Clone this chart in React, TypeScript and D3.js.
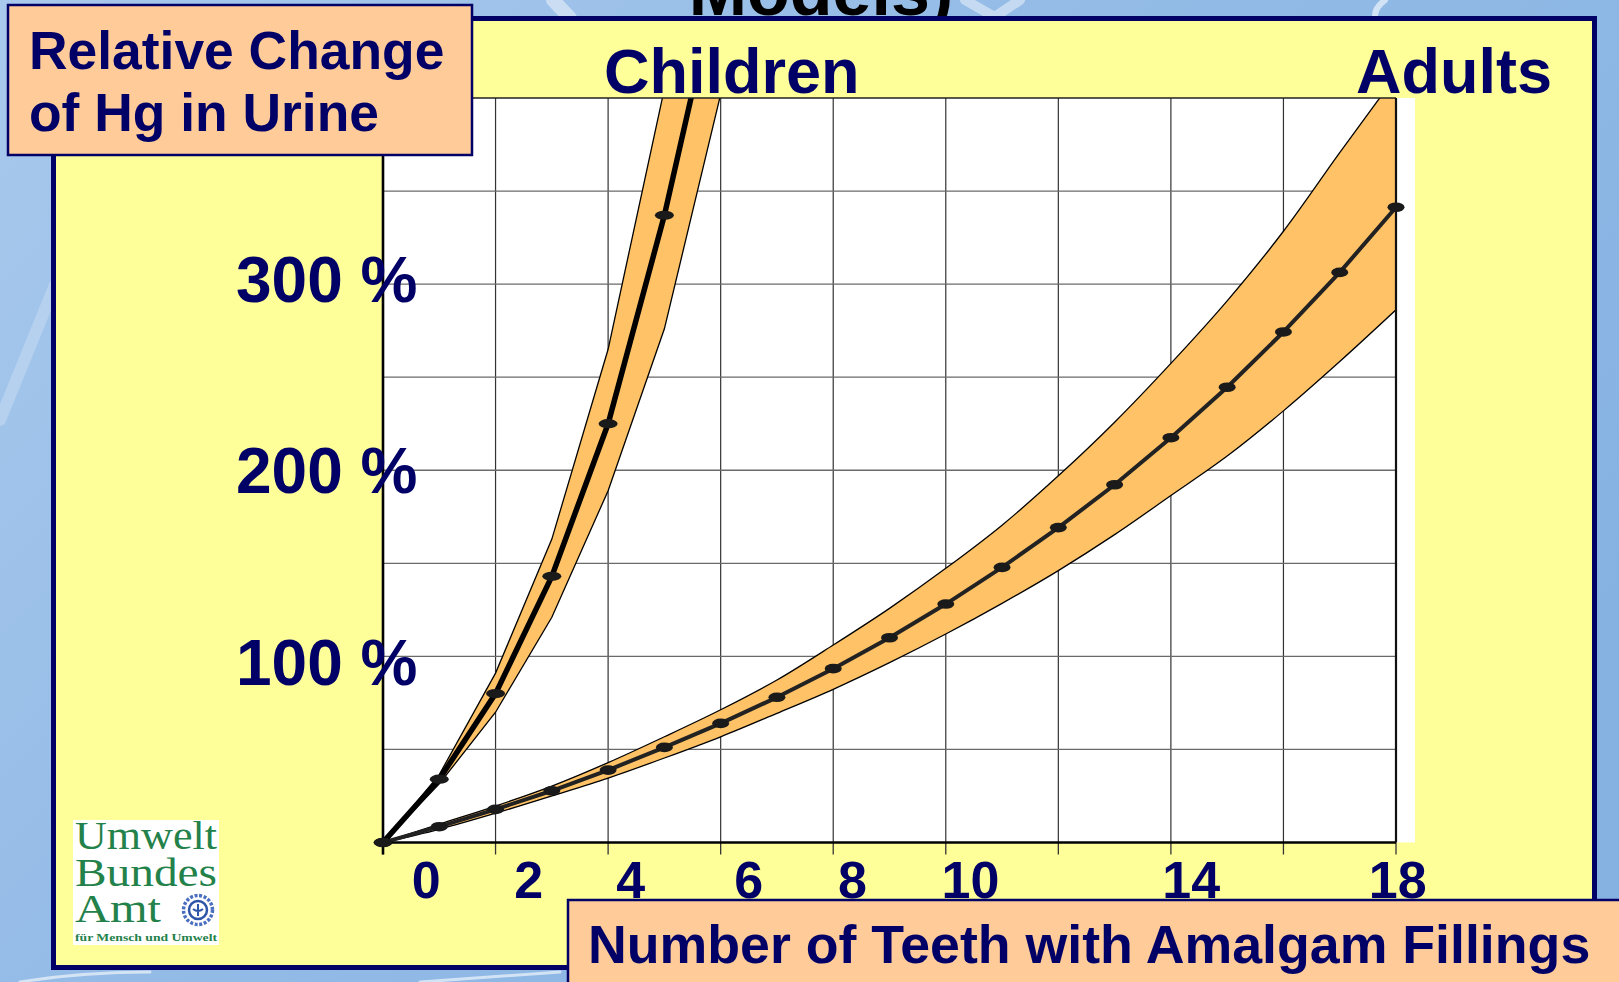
import React, { useRef, useEffect } from 'react';
import * as d3 from 'd3';

// values (relative change of Hg in urine, %)
const adultTeeth = [0, 1, 2, 3, 4, 5, 6, 7, 8, 9, 10, 11, 12, 13, 14, 15, 16, 17, 18];
const adultMean = [0, 8.5, 17.8, 27.8, 38.9, 51.1, 64.0, 78.0, 93.4, 110.0, 128.1, 147.8, 169.2, 192.2, 217.5, 244.6, 274.3, 306.3, 341.3];
const adultUpper = [0, 9.9, 19.6, 30.3, 42.9, 56.8, 71.3, 87.3, 106.1, 125.8, 147.3, 170.5, 197.0, 225.8, 257.4, 291.0, 328.4, 370.6, 412.0];
const adultLower = [0, 7.1, 15.7, 25.0, 34.6, 45.4, 56.8, 69.4, 82.3, 96.6, 112.0, 128.5, 146.1, 165.4, 186.4, 207.6, 231.9, 258.4, 286.2];

const childTeeth = [0, 1, 2, 3, 4, 5, 6];
const childMean = [0, 34, 80, 143, 225, 337, 470];
const childUpper = [0, 36.5, 91, 163, 265, 405, 560];
const childLower = [0, 31.5, 70, 121, 189, 276, 402];

const gridTeeth = [0, 2, 4, 6, 8, 10, 12, 14, 16, 18];
const gridPercent = [0, 50, 100, 150, 200, 250, 300, 350, 400];

// the slide's labels sit a little off their grid lines
const xTickLabels = ['0', '2', '4', '6', '8', '10', '14', '18'];
const xTickLabelAt = [0.77, 2.59, 4.4, 6.5, 8.34, 10.44, 14.36, 18.03];
const yTickLabels = ['300 %', '200 %', '100 %'];
const yTickLabelAt = [303, 200, 97];

const yTitle = ['Relative Change', 'of Hg in Urine'];
const xTitle = 'Number of Teeth with Amalgam Fillings';
const slideTitle = 'Models)';
const logoLines = ['Umwelt', 'Bundes', 'Amt'];
const logoTagline = 'für Mensch und Umwelt';

export default function App() {
  const d3Container = useRef<SVGSVGElement>(null);

  useEffect(() => {
    if (!d3Container.current) return;
    const W = 1619;
    const H = 982;
    const NAVY = '#000066';
    const sans = '"Liberation Sans", Arial, Helvetica, sans-serif';
    const serif = '"Liberation Serif", "DejaVu Serif", serif';

    const svg = d3.select(d3Container.current);
    svg.selectAll('*').remove();

    const xScale = d3.scaleLinear().domain([0, 18]).range([383, 1396]);
    const yScale = d3.scaleLinear().domain([0, 400]).range([842.5, 98]);
    const [x0, x1] = xScale.range();
    const [yb, yt] = yScale.range();

    const defs = svg.append('defs');
    const bg = defs.append('linearGradient').attr('id', 'bg')
      .attr('x1', 0).attr('y1', 0).attr('x2', 1).attr('y2', 0.6);
    bg.append('stop').attr('offset', 0).attr('stop-color', '#a9c9ed');
    bg.append('stop').attr('offset', 0.5).attr('stop-color', '#93bbe6');
    bg.append('stop').attr('offset', 1).attr('stop-color', '#86b2e2');
    defs.append('clipPath').attr('id', 'plotClip')
      .append('rect').attr('x', x0).attr('y', yt).attr('width', x1 - x0).attr('height', yb - yt);

    // slide background
    svg.append('rect').attr('width', W).attr('height', H).attr('fill', 'url(#bg)');
    const streaks = svg.append('g').attr('fill', 'none').attr('stroke', '#ffffff').attr('stroke-linecap', 'round');
    streaks.append('path').attr('d', 'M0,420 L55,285').attr('stroke-width', 12).attr('stroke-opacity', 0.22);
    streaks.append('path').attr('d', 'M553,0 L570,18').attr('stroke-width', 14).attr('stroke-opacity', 0.45);
    streaks.append('path').attr('d', 'M965,0 L1000,20 M1020,0 L990,20').attr('stroke-width', 10).attr('stroke-opacity', 0.45);
    streaks.append('path').attr('d', 'M1385,0 Q1372,10 1376,20').attr('stroke-width', 6).attr('stroke-opacity', 0.6);
    streaks.append('path').attr('d', 'M20,982 Q80,972 150,972 M420,982 L560,972 M1180,982 L1300,973').attr('stroke-width', 3).attr('stroke-opacity', 0.6);

    // cut-off slide title behind the panel
    svg.append('text').text(slideTitle)
      .attr('x', 821).attr('y', 15).attr('text-anchor', 'middle')
      .attr('font-family', sans).attr('font-weight', 'bold').attr('font-size', 70).attr('fill', '#000');

    // yellow panel
    svg.append('rect').attr('x', 53.5).attr('y', 18.5).attr('width', 1541).attr('height', 949)
      .attr('fill', '#ffff99').attr('stroke', NAVY).attr('stroke-width', 5);

    // plot background
    svg.append('rect').attr('x', x0).attr('y', yt).attr('width', 1415 - x0).attr('height', yb - yt).attr('fill', '#fff');

    // grid
    const grid = svg.append('g');
    grid.selectAll('line.gx')
      .data(gridTeeth.filter(t => t > 0 && t < 18))
      .enter().append('line')
      .attr('x1', d => xScale(d)).attr('x2', d => xScale(d))
      .attr('y1', yt).attr('y2', yb)
      .attr('stroke', '#333').attr('stroke-width', 1.2);
    grid.selectAll('line.gy')
      .data(gridPercent.filter(p => p > 0 && p < 400))
      .enter().append('line')
      .attr('x1', x0).attr('x2', x1)
      .attr('y1', d => yScale(d)).attr('y2', d => yScale(d))
      .attr('stroke', '#6a6a6a').attr('stroke-width', 1.3);

    // bands
    const plot = svg.append('g').attr('clip-path', 'url(#plotClip)');
    const adultArea = d3.area<number>()
      .x((d, i) => xScale(adultTeeth[i]))
      .y0((d, i) => yScale(adultLower[i]))
      .y1(d => yScale(d))
      .curve(d3.curveMonotoneX);
    const childArea = d3.area<number>()
      .x((d, i) => xScale(childTeeth[i]))
      .y0((d, i) => yScale(childLower[i]))
      .y1(d => yScale(d));
    plot.append('path').attr('d', adultArea(adultUpper))
      .attr('fill', '#ffc266').attr('stroke', '#000').attr('stroke-width', 1.3);
    plot.append('path').attr('d', childArea(childUpper))
      .attr('fill', '#ffc266').attr('stroke', '#000').attr('stroke-width', 1.3);

    // mean lines
    const adultLine = d3.line<number>().x((d, i) => xScale(adultTeeth[i])).y(d => yScale(d));
    const childLine = d3.line<number>().x((d, i) => xScale(childTeeth[i])).y(d => yScale(d));
    plot.append('path').attr('d', adultLine(adultMean))
      .attr('fill', 'none').attr('stroke', '#222').attr('stroke-width', 4).attr('stroke-linejoin', 'round');
    plot.append('path').attr('d', childLine(childMean))
      .attr('fill', 'none').attr('stroke', '#000').attr('stroke-width', 5.5).attr('stroke-linejoin', 'round');

    // axes and frame
    const frame = svg.append('g');
    frame.append('line').attr('x1', x0).attr('x2', x1).attr('y1', yt).attr('y2', yt)
      .attr('stroke', '#222').attr('stroke-width', 1.3);
    frame.append('line').attr('x1', x1).attr('x2', x1).attr('y1', yt).attr('y2', yb)
      .attr('stroke', '#111').attr('stroke-width', 2.2);
    frame.selectAll('line.tick')
      .data(gridTeeth)
      .enter().append('line')
      .attr('x1', d => xScale(d)).attr('x2', d => xScale(d))
      .attr('y1', yb).attr('y2', yb + 12)
      .attr('stroke', '#333').attr('stroke-width', 1.3);
    frame.append('line').attr('x1', x0).attr('x2', x0).attr('y1', yt).attr('y2', yb + 12)
      .attr('stroke', '#000').attr('stroke-width', 2.6);
    frame.append('line').attr('x1', x0).attr('x2', x1).attr('y1', yb).attr('y2', yb)
      .attr('stroke', '#000').attr('stroke-width', 2.6);

    // markers
    const dots = svg.append('g').attr('fill', '#1a1a1a');
    dots.selectAll('ellipse.a')
      .data(adultMean.map((v, i) => [adultTeeth[i], v]).filter(d => d[1] <= 400))
      .enter().append('ellipse')
      .attr('cx', d => xScale(d[0])).attr('cy', d => yScale(d[1]))
      .attr('rx', 8.5).attr('ry', 4.8);
    dots.selectAll('ellipse.c')
      .data(childMean.map((v, i) => [childTeeth[i], v]).filter(d => d[1] <= 400))
      .enter().append('ellipse')
      .attr('cx', d => xScale(d[0])).attr('cy', d => yScale(d[1]))
      .attr('rx', 9.5).attr('ry', 4.6);

    // tick labels
    const labels = svg.append('g').attr('font-family', sans).attr('font-weight', 'bold').attr('fill', NAVY);
    labels.selectAll('text.xl')
      .data(xTickLabels)
      .enter().append('text')
      .attr('x', (d, i) => xScale(xTickLabelAt[i])).attr('y', 898)
      .attr('text-anchor', 'middle').attr('font-size', 52)
      .text(d => d);
    labels.selectAll('text.yl')
      .data(yTickLabels)
      .enter().append('text')
      .attr('x', 236).attr('y', (d, i) => yScale(yTickLabelAt[i]))
      .attr('dy', '0.36em').attr('font-size', 64)
      .text(d => d);

    // group labels
    labels.append('text').attr('x', 604).attr('y', 93).attr('font-size', 63).text('Children');
    labels.append('text').attr('x', 1356).attr('y', 93).attr('font-size', 63).text('Adults');

    // y title box
    svg.append('rect').attr('x', 8).attr('y', 5).attr('width', 464).attr('height', 150)
      .attr('fill', '#ffcc99').attr('stroke', NAVY).attr('stroke-width', 2.5);
    svg.append('g').attr('font-family', sans).attr('font-weight', 'bold').attr('fill', NAVY).attr('font-size', 53.4)
      .selectAll('text').data(yTitle).enter().append('text')
      .attr('x', 29).attr('y', (d, i) => 68.5 + i * 62.5)
      .text(d => d);

    // x title box
    svg.append('rect').attr('x', 568).attr('y', 900).attr('width', 1100).attr('height', 120)
      .attr('fill', '#ffcc99').attr('stroke', NAVY).attr('stroke-width', 2.5);
    svg.append('text').attr('x', 588).attr('y', 963)
      .attr('font-family', sans).attr('font-weight', 'bold').attr('font-size', 53.7).attr('fill', NAVY)
      .text(xTitle);

    // agency logo
    const logo = svg.append('g');
    logo.append('rect').attr('x', 73).attr('y', 820).attr('width', 146).attr('height', 125).attr('fill', '#fff');
    const logoWidths = [142, 142, 86];
    logo.selectAll('text.l').data(logoLines).enter().append('text')
      .attr('x', 75).attr('y', (d, i) => 849 + i * 36.5)
      .attr('font-family', serif).attr('font-size', 40).attr('fill', '#23814a')
      .attr('textLength', (d, i) => logoWidths[i]).attr('lengthAdjust', 'spacingAndGlyphs')
      .text(d => d);
    logo.append('text').attr('x', 75).attr('y', 941)
      .attr('font-family', serif).attr('font-weight', 'bold').attr('font-size', 11).attr('fill', '#23814a')
      .attr('textLength', 142).attr('lengthAdjust', 'spacingAndGlyphs')
      .text(logoTagline);
    const emblem = logo.append('g').attr('transform', 'translate(198,910)');
    emblem.append('circle').attr('r', 14.5).attr('fill', 'none').attr('stroke', '#4a6fc0')
      .attr('stroke-width', 3.5).attr('stroke-dasharray', '3 1.6');
    emblem.append('circle').attr('r', 9).attr('fill', '#fff').attr('stroke', '#2d55a8').attr('stroke-width', 2.5);
    emblem.append('path').attr('d', 'M0,-6 L0,6 M-5,-1 Q0,3 5,-1').attr('stroke', '#2d55a8').attr('stroke-width', 2).attr('fill', 'none');
  }, []);

  return (
    <svg
      ref={d3Container}
      width={1619}
      height={982}
      style={{ position: 'absolute', left: 0, top: 0, display: 'block' }}
    />
  );
}
